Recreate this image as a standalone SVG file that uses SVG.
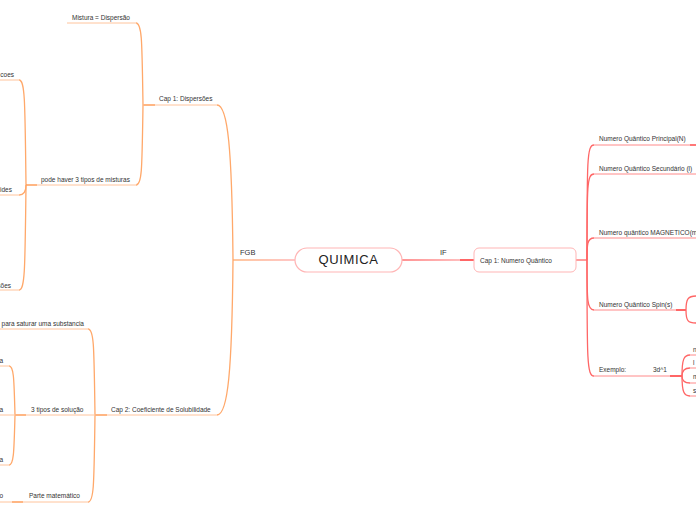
<svg xmlns="http://www.w3.org/2000/svg" width="696" height="520" viewBox="0 0 696 520">
<style>
text{font-family:"Liberation Sans",Arial,sans-serif;fill:#333;font-size:6.5px;dominant-baseline:middle}
.o{fill:none;stroke:#FFC49C;stroke-width:1}
.ot{fill:none;stroke:#FFA86A;stroke-width:1.3}
.oth{fill:none;stroke:#FFA86A;stroke-width:2}
.r{fill:none;stroke:#FF8A8A;stroke-width:1}
.rt{fill:none;stroke:#FF6666;stroke-width:1.3}
.rth{fill:none;stroke:#FF6666;stroke-width:2}
.cut{text-anchor:end}
</style>
<defs>
<linearGradient id="gl" gradientUnits="userSpaceOnUse" x1="233" y1="260" x2="295" y2="260"><stop offset="0" stop-color="#FFB47E"/><stop offset="1" stop-color="#FFB3B3"/></linearGradient>
<linearGradient id="gr" gradientUnits="userSpaceOnUse" x1="402" y1="260" x2="474" y2="260"><stop offset="0" stop-color="#FF7070"/><stop offset="1" stop-color="#FFB3B3"/></linearGradient>
</defs>
<rect width="696" height="520" fill="#fff"/>
<g id="connectors">
<path d="M295,260 L233,260" stroke="url(#gl)" stroke-width="1.3" fill="none"/>
<path class="ot" d="M233,260 C232,150 228,105 217,105"/>
<path class="ot" d="M233,260 C232,370 228,415 217,415"/>
<path class="oth" d="M143,105 L155,105"/>
<path class="ot" d="M143,105 C142,40 142,23 136,23"/>
<path class="ot" d="M143,105 C142,170 142,185 136,185"/>
<path class="oth" d="M26,185 L37,185"/>
<path class="ot" d="M26,185 C25,100 25,80 19,80"/>
<path class="ot" d="M26,185 C26,192 24,195 19,195"/>
<path class="ot" d="M26,185 C25,270 25,290 19,290"/>
<path class="oth" d="M95,415 L107,415"/>
<path class="ot" d="M95,415 C94,345 94,329 88,329"/>
<path class="ot" d="M95,415 C94,485 94,502 88,502"/>
<path class="oth" d="M15,415 L26,415"/>
<path class="ot" d="M15,415 C14,380 14,366 9,366"/>
<path class="ot" d="M15,415 C14,450 14,465 9,465"/>
<path class="oth" d="M12,502 L23,502"/>
<path d="M402,260 L474,260" stroke="url(#gr)" stroke-width="1.3" fill="none"/>
<path class="rth" d="M460,260 L474,260"/>
<path class="rt" d="M576,260 L587,260"/>
<path class="rt" d="M587,260 C587,160 587,145 594,145"/>
<path class="rt" d="M587,260 C587,185 587,174 594,174"/>
<path class="rt" d="M587,260 C587,245 587,238 594,238"/>
<path class="rt" d="M587,260 C587,300 587,310 594,310"/>
<path class="rt" d="M587,260 C587,360 587,376 594,376"/>
<path class="rth" d="M676,310 L686,310"/>
<path class="rt" d="M686,310 C686,299 688,296 696,296"/>
<path class="rt" d="M686,310 C686,321 688,323 696,323"/>
<path class="rth" d="M670,376 L682,376"/>
<path class="rt" d="M682,376 C682,359 684,355 690,355"/>
<path class="rt" d="M682,376 C682,371 684,368 690,368"/>
<path class="rt" d="M682,376 C682,380 684,383 690,383"/>
<path class="rt" d="M682,376 C682,392 684,396 690,396"/>
<path class="rth" d="M690,145 L696,145"/>
</g>
<g id="quimica">
<rect x="295" y="248" width="107" height="24" rx="12" fill="#fff" stroke="#FFB5B5" stroke-width="1.2"/>
<text x="348.5" y="261" style="font-size:13px;text-anchor:middle;letter-spacing:0.6px;fill:#222">QUIMICA</text>
</g>
<g id="lbl-fgb"><text x="240" y="253" style="font-size:7.5px">FGB</text></g>
<g id="lbl-if"><text x="440" y="253" style="font-size:7.5px">IF</text></g>
<g id="cap1-disp"><line class="o" x1="143" y1="105" x2="217" y2="105"/><text x="159" y="99">Cap 1: Dispersões</text></g>
<g id="mistura"><line class="o" x1="67" y1="23" x2="137" y2="23"/><text x="72" y="18">Mistura = Dispersão</text></g>
<g id="pode"><line class="o" x1="27" y1="185" x2="137" y2="185"/><text x="41" y="180">pode haver 3 tipos de misturas</text></g>
<g id="frag1"><line class="o" x1="0" y1="80" x2="20" y2="80"/><text class="cut" x="14" y="75">coes</text></g>
<g id="frag2"><line class="o" x1="0" y1="195" x2="20" y2="195"/><text class="cut" x="12" y="190">ides</text></g>
<g id="frag3"><line class="o" x1="0" y1="290" x2="20" y2="290"/><text class="cut" x="11" y="286">sões</text></g>
<g id="cap2"><line class="o" x1="95" y1="415" x2="217" y2="415"/><text x="111" y="410">Cap 2: Coeficiente de Solubilidade</text></g>
<g id="saturar"><line class="o" x1="0" y1="329" x2="89" y2="329"/><text class="cut" x="84" y="324">para saturar uma substancia</text></g>
<g id="tipos"><line class="o" x1="15" y1="415" x2="95" y2="415"/><text x="31" y="410">3 tipos de solução</text></g>
<g id="parte"><line class="o" x1="12" y1="502" x2="89" y2="502"/><text x="29" y="496">Parte matemático</text></g>
<g id="frag4"><line class="o" x1="0" y1="366" x2="10" y2="366"/><text class="cut" x="3" y="361">a</text></g>
<g id="frag5"><line class="o" x1="0" y1="415" x2="15" y2="415"/><text class="cut" x="3" y="410">a</text></g>
<g id="frag6"><line class="o" x1="0" y1="465" x2="10" y2="465"/><text class="cut" x="3" y="460">a</text></g>
<g id="frag7"><line class="o" x1="0" y1="502" x2="12" y2="502"/><text class="cut" x="3" y="496">o</text></g>
<g id="cap1-nq">
<rect x="474" y="248" width="102" height="24" rx="5" fill="#fff" stroke="#FFB5B5" stroke-width="1"/>
<text x="480" y="261">Cap 1: Numero Quântico</text>
</g>
<g id="principal"><line class="r" x1="594" y1="145" x2="696" y2="145"/><text x="599" y="139">Numero Quântico Principal(N)</text></g>
<g id="secundario"><line class="r" x1="594" y1="174" x2="696" y2="174"/><text x="599" y="169">Numero Quântico Secundário (l)</text></g>
<g id="magnetico"><line class="r" x1="594" y1="238" x2="696" y2="238"/><text x="599" y="233">Numero quântico MAGNETICO(m)</text></g>
<g id="spin"><line class="r" x1="594" y1="310" x2="676" y2="310"/><text x="599" y="305">Numero Quântico Spin(s)</text></g>
<g id="exemplo"><line class="r" x1="594" y1="376" x2="670" y2="376"/><text x="599" y="370">Exemplo:</text><text x="653" y="370">3d^1</text></g>
<g id="ex-n"><line class="r" x1="690" y1="355" x2="696" y2="355"/><text x="693" y="350">n</text></g>
<g id="ex-l"><line class="r" x1="690" y1="368" x2="696" y2="368"/><text x="693" y="363">l</text></g>
<g id="ex-m"><line class="r" x1="690" y1="383" x2="696" y2="383"/><text x="693" y="377">m</text></g>
<g id="ex-s"><line class="r" x1="690" y1="396" x2="696" y2="396"/><text x="693" y="391">s</text></g>
</svg>
